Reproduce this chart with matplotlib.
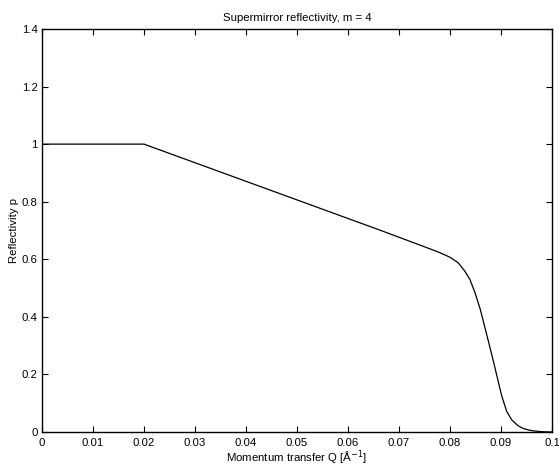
import matplotlib
matplotlib.use("Agg")
import matplotlib.pyplot as plt

# Supermirror reflectivity curve, m = 4 (values read per point)
q_values = [0.0, 0.02, 0.0584, 0.0663, 0.0761, 0.0780, 0.0800, 0.0816,
            0.0829, 0.0839, 0.0849, 0.0859, 0.0865, 0.0872, 0.0882, 0.0888,
            0.0895, 0.0901, 0.0911, 0.0921, 0.0934, 0.0944, 0.0954, 0.0963,
            0.0973, 0.0985, 0.1]
r_values = [1.0, 1.0, 0.752, 0.701, 0.636, 0.623, 0.607, 0.588,
            0.559, 0.530, 0.484, 0.428, 0.387, 0.338, 0.268, 0.224,
            0.172, 0.128, 0.072, 0.042, 0.021, 0.012, 0.007, 0.004,
            0.002, 0.0005, 0.0]

xticks = [0, 0.01, 0.02, 0.03, 0.04, 0.05, 0.06, 0.07, 0.08, 0.09, 0.1]
xtick_labels = ["0", "0.01", "0.02", "0.03", "0.04", "0.05", "0.06", "0.07",
                "0.08", "0.09", "0.1"]
yticks = [0, 0.2, 0.4, 0.6, 0.8, 1.0, 1.2, 1.4]
ytick_labels = ["0", "0.2", "0.4", "0.6", "0.8", "1", "1.2", "1.4"]

plt.rcParams["font.family"] = ["Liberation Sans", "DejaVu Sans"]
fs = 8.2

fig = plt.figure(figsize=(5.59, 4.66), dpi=100)
ax = fig.add_axes([0.0751, 0.0730, 0.9124, 0.8648])

ax.plot(q_values, r_values, color="black", linewidth=0.9)

ax.set_xlim(0, 0.1)
ax.set_ylim(0, 1.4)
ax.set_xticks(xticks)
ax.set_xticklabels(xtick_labels, fontsize=fs)
ax.set_yticks(yticks)
ax.set_yticklabels(ytick_labels, fontsize=fs)
ax.tick_params(direction="in", top=True, right=True, length=4, width=0.8)
ax.tick_params(axis="x", pad=4)
ax.tick_params(axis="y", pad=3)
for s in ax.spines.values():
    s.set_linewidth(1.0)

ax.set_xlabel("Momentum transfer Q [Å$^{-1}$]", fontsize=fs, labelpad=0.5)
ax.set_ylabel("Reflectivity p", fontsize=fs, labelpad=2)
ax.set_title("Supermirror reflectivity, m = 4", fontsize=fs, pad=6)

fig.savefig("out.png", dpi=100)
